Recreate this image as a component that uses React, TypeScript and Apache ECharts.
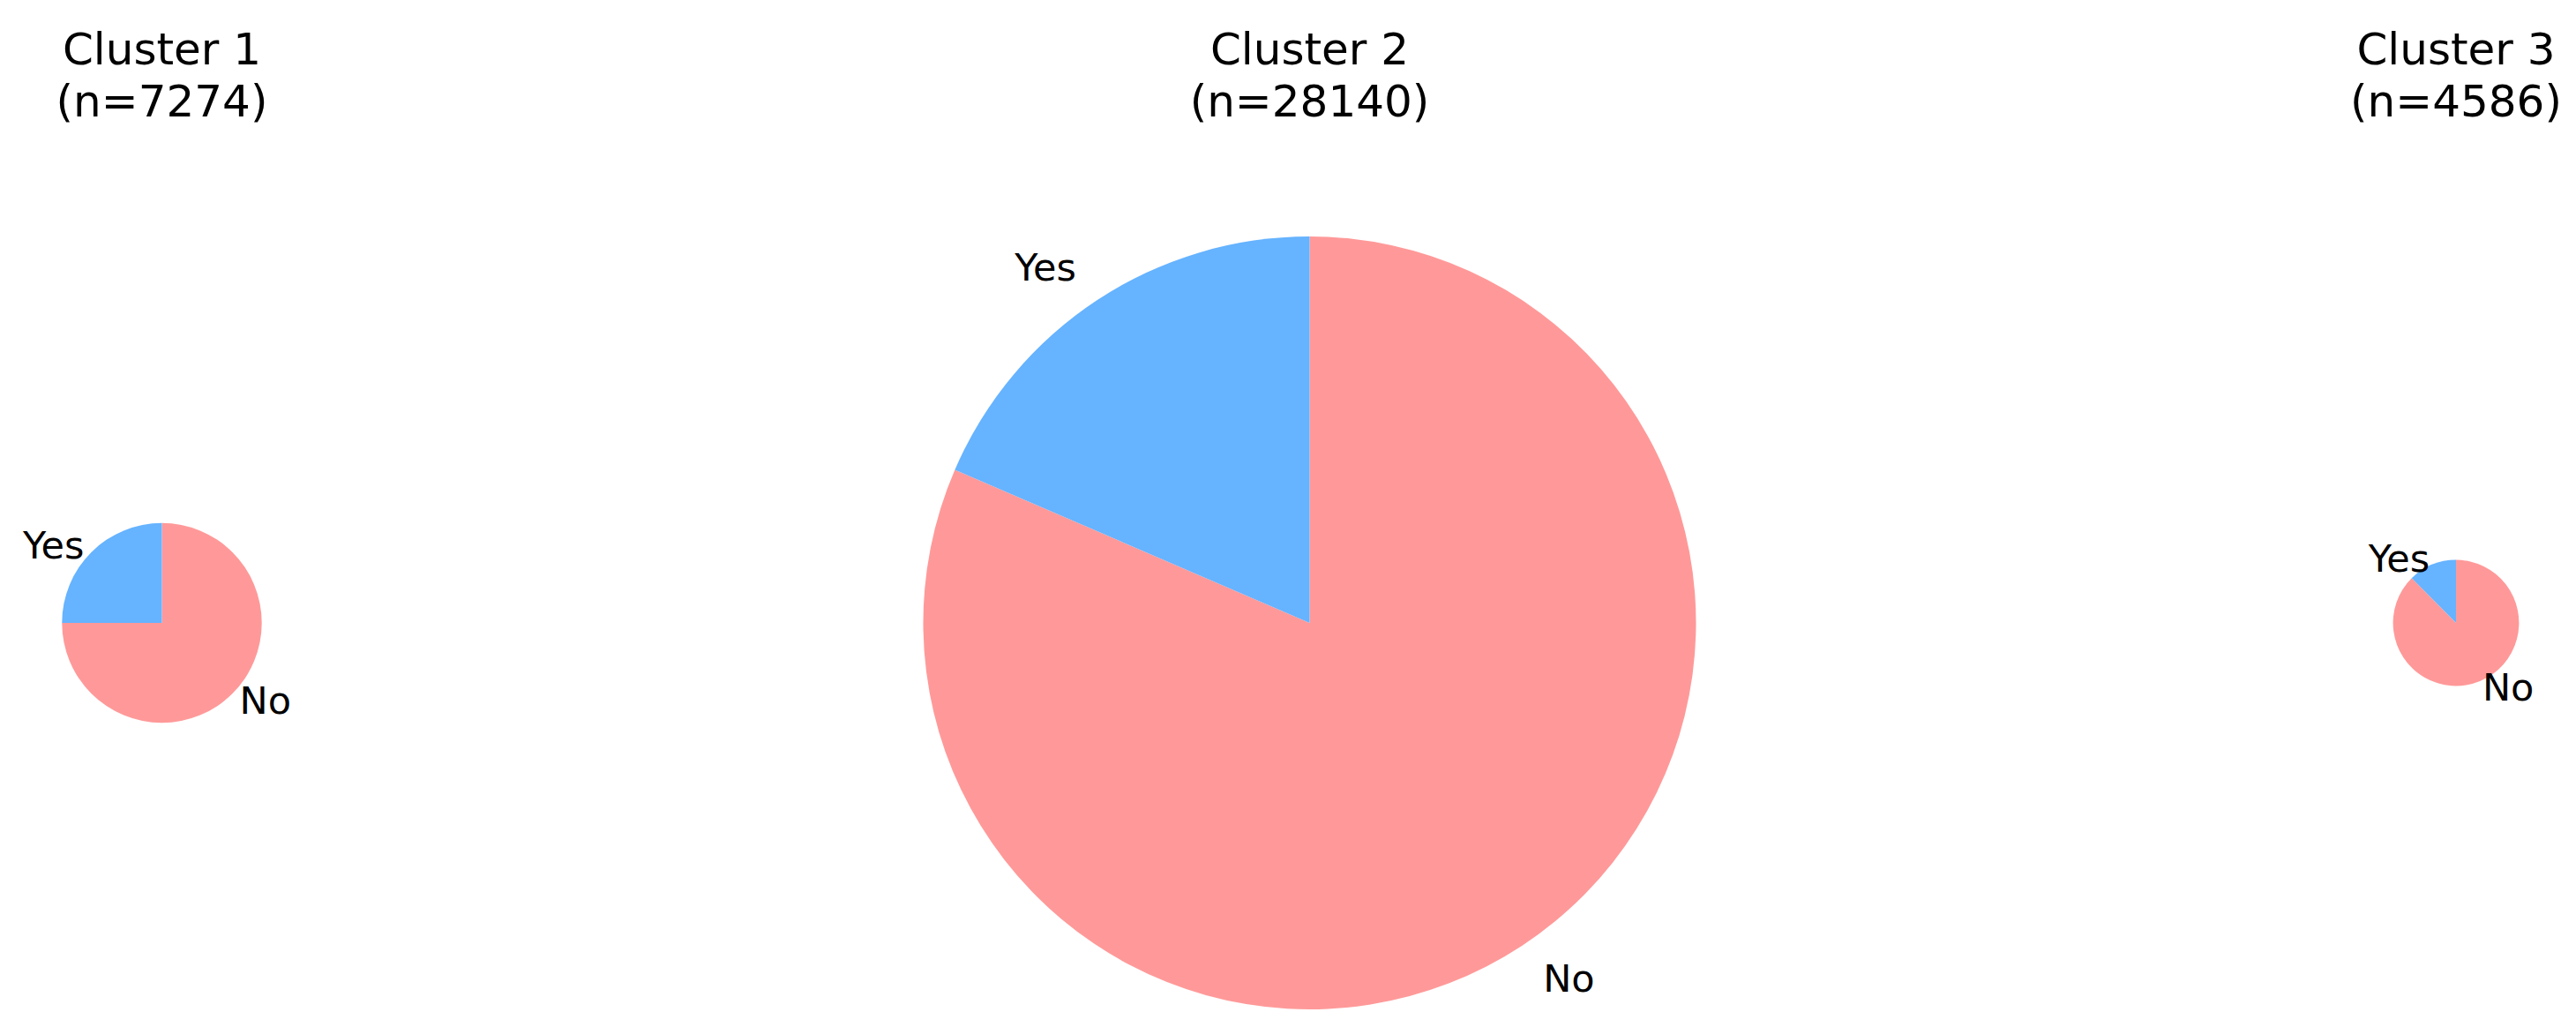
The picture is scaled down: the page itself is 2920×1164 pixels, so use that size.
import React, { useEffect, useRef } from 'react';
import * as echarts from 'echarts';

const clusters = ['Cluster 1', 'Cluster 2', 'Cluster 3'];
const counts = [7274, 28140, 4586];
const categories = ['No', 'Yes'];
const noValues = [5456, 22930, 4016];
const yesValues = [1818, 5210, 570];
const sliceColors = ['#ff9999', '#66b3ff'];

const centersX = [183.5, 1484.5, 2784];
const centerY = 706;
const maxRadius = 438;
const FONT = '"DejaVu Sans", Verdana, sans-serif';

export default function App() {
  const ref = useRef<HTMLDivElement>(null);
  useEffect(() => {
    if (!ref.current) return;
    const chart = echarts.init(ref.current, null, { renderer: 'svg' });
    const maxN = Math.max(...counts);
    const series = clusters.map((c, i) => {
      const r = (maxRadius * counts[i]) / maxN;
      const vals = [noValues[i], yesValues[i]];
      return {
        type: 'pie',
        name: c,
        center: [centersX[i], centerY],
        radius: r,
        startAngle: 90,
        clockwise: true,
        avoidLabelOverlap: false,
        silent: true,
        emphasis: { disabled: true },
        itemStyle: { borderWidth: 0 },
        label: {
          show: true,
          position: 'outside',
          formatter: '{b}',
          fontSize: 43,
          fontFamily: FONT,
          fontWeight: 'normal',
          color: '#000',
          distanceToLabelLine: 0,
          padding: [0, 0, 6, 0],
        },
        labelLine: { show: false, length: r * 0.1, length2: 0 },
        data: categories.map((name, k) => ({
          name,
          value: vals[k],
          itemStyle: { color: sliceColors[k] },
        })),
      };
    });
    const titles = clusters.map((c, i) => ({
      text: `${c}\n(n=${counts[i]})`,
      left: centersX[i],
      top: 26,
      padding: 0,
      textAlign: 'center',
      textStyle: {
        fontSize: 50,
        fontFamily: FONT,
        fontWeight: 'normal',
        color: '#000',
        lineHeight: 59,
      },
    }));
    chart.setOption({
      animation: false,
      backgroundColor: '#fff',
      title: titles,
      series,
    } as any);
    return () => chart.dispose();
  }, []);
  return (
    <div
      ref={ref}
      style={{ position: 'fixed', left: 0, top: 0, width: 2920, height: 1164, background: '#fff' }}
    />
  );
}
